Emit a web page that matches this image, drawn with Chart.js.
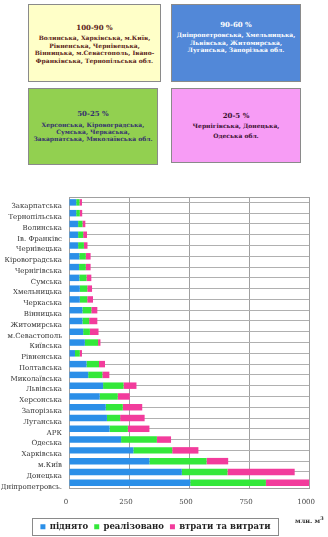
<!DOCTYPE html>
<html>
<head>
<meta charset="utf-8">
<script src="https://cdn.jsdelivr.net/npm/chart.js@4.4.1/dist/chart.umd.min.js"></script>
<style>
  body { margin: 0; width: 328px; height: 537px; background: #fff; position: relative; overflow: hidden;
         font-family: "DejaVu Serif", serif; }
  .box { position: absolute; box-sizing: border-box; border: 1px solid #8a8a8a; display: flex;
         flex-direction: column; align-items: center; justify-content: center; text-align: center;
         font-weight: bold; font-size: 6px; line-height: 7.4px; }
  .box .t { font-size: 7px; margin-bottom: 3px; }
  #b1 { left: 28px; top: 4px; width: 133px; height: 78px; background: #ffffc8; color: #5a2218; padding-top: 2px; }
  #b2 { left: 171px; top: 4px; width: 130px; height: 78px; background: #5288d8; color: #fff; padding-bottom: 12px; }
  #b3 { left: 28px; top: 88px; width: 130px; height: 77px; background: #92d050; color: #34306e; }
  #b4 { left: 171px; top: 88px; width: 130px; height: 75px; background: #f79cf5; color: #3a1030; line-height: 10px; }
  #wrap { position: absolute; left: 0; top: 180px; width: 328px; height: 361px; }
  #unit { position: absolute; left: 295px; top: 515px; font-size: 6.5px; font-weight: bold; color: #333; }
</style>
</head>
<body>
<div class="box" id="b1"><div class="t">100-90 %</div>Волинська, Харківська, м.Київ,<br>Рівненська, Чернівецька,<br>Вінницька, м.Севастополь, Івано-<br>Франківська, Тернопільська обл.</div>
<div class="box" id="b2"><div class="t">90-60 %</div>Дніпропетровська, Хмельницька,<br>Львівська, Житомирська,<br>Луганська, Запорізька обл.</div>
<div class="box" id="b3"><div class="t">50-25 %</div>Херсонська, Кіровоградська,<br>Сумська, Черкаська,<br>Закарпатська, Миколаївська обл.</div>
<div class="box" id="b4"><div class="t" style="margin-bottom:0">20-5 %</div>Чернігівська, Донецька,<br>Одеська обл.</div>
<div id="wrap"><canvas id="chart" width="328" height="361"></canvas></div>
<div id="unit">млн. м<sup style="font-size:5px">3</sup></div>
<script>
const regions = [
  'Закарпатська', 'Тернопільська', 'Волинська', 'Ів. Франківс', 'Чернівецька',
  'Кіровоградська', 'Чернігівська', 'Сумська', 'Хмельницька', 'Черкаська',
  'Вінницька', 'Житомирська', 'м.Севастополь', 'Київська', 'Рівненська',
  'Полтавська', 'Миколаївська', 'Львівська', 'Херсонська', 'Запорізька',
  'Луганська', 'АРК', 'Одеська', 'Харківська', 'м.Київ', 'Донецька', 'Дніпропетровсь.'
];

// млн. м3
const lifted = [30, 30, 38, 38, 38, 43, 42, 43, 45, 45, 56, 56, 59, 66, 25, 73, 80, 142, 128, 153, 158, 169, 217, 268, 335, 470, 505];
const sold = [14, 15, 18, 21, 24, 27, 28, 30, 31, 31, 37, 28, 28, 55, 20, 52, 59, 85, 75, 71, 55, 76, 149, 162, 238, 190, 315];
const losses = [10, 10, 12, 16, 15, 20, 20, 20, 20, 24, 25, 34, 36, 10, 9, 25, 29, 54, 50, 81, 102, 90, 59, 109, 90, 280, 180];

const seriesNames = ['піднято', 'реалізовано', 'втрати та витрати'];
const seriesColors = ['#2b8fe8', '#33e83a', '#f23c9c'];
const xMax = 1000;
const xStep = 250;

const frame = {
  id: 'frame',
  beforeDatasetsDraw(chart) {
    const { ctx, chartArea } = chart;
    ctx.save();
    ctx.strokeStyle = '#a0a0a0';
    ctx.lineWidth = 1;
    ctx.beginPath();
    ctx.moveTo(chartArea.left, chartArea.top + 0.5);
    ctx.lineTo(chartArea.right, chartArea.top + 0.5);
    ctx.stroke();
    ctx.restore();
  },
  afterDraw(chart) {
    // box round the legend
    const boxes = chart.legend.legendHitBoxes;
    if (!boxes.length) return;
    const left = Math.min(...boxes.map(b => b.left)) - 8;
    const right = Math.max(...boxes.map(b => b.left + b.width)) + 8;
    const top = boxes[0].top - 5;
    const ctx = chart.ctx;
    ctx.save();
    ctx.strokeStyle = '#8a8a8a';
    ctx.strokeRect(Math.round(left) + 0.5, Math.round(top) + 0.5, Math.round(right - left), 17);
    ctx.restore();
  }
};

new Chart(document.getElementById('chart'), {
  type: 'bar',
  data: {
    labels: regions,
    datasets: [lifted, sold, losses].map((values, i) => ({
      label: seriesNames[i],
      data: values,
      backgroundColor: seriesColors[i],
      borderWidth: 0,
      barPercentage: 0.6,
      categoryPercentage: 1
    }))
  },
  options: {
    indexAxis: 'y',
    responsive: false,
    animation: false,
    layout: { padding: { top: 17, right: 17, left: 0, bottom: 0 } },
    scales: {
      x: {
        stacked: true,
        min: 0,
        max: xMax,
        ticks: { stepSize: xStep, color: '#444', padding: 10, labelOffset: -3,
                 callback: (v) => String(v),
                 font: { family: 'DejaVu Serif', size: 7 } },
        grid: { color: '#a0a0a0', drawTicks: false },
        border: { color: '#a0a0a0' }
      },
      y: {
        stacked: true,
        afterFit: (scale) => { scale.width = 69; },
        ticks: { color: '#333', padding: 7, labelOffset: 4, autoSkip: false,
                 font: { family: 'DejaVu Serif', size: 7 } },
        grid: { offset: false, color: '#b0b0b0', drawTicks: false },
        border: { color: '#a0a0a0' }
      }
    },
    plugins: {
      legend: {
        position: 'bottom',
        labels: {
          boxWidth: 5, boxHeight: 5, padding: 6, color: '#222',
          font: { family: 'DejaVu Serif', size: 8.5, weight: 'bold' }
        }
      },
      tooltip: { enabled: false }
    }
  },
  plugins: [frame]
});
</script>
</body>
</html>
